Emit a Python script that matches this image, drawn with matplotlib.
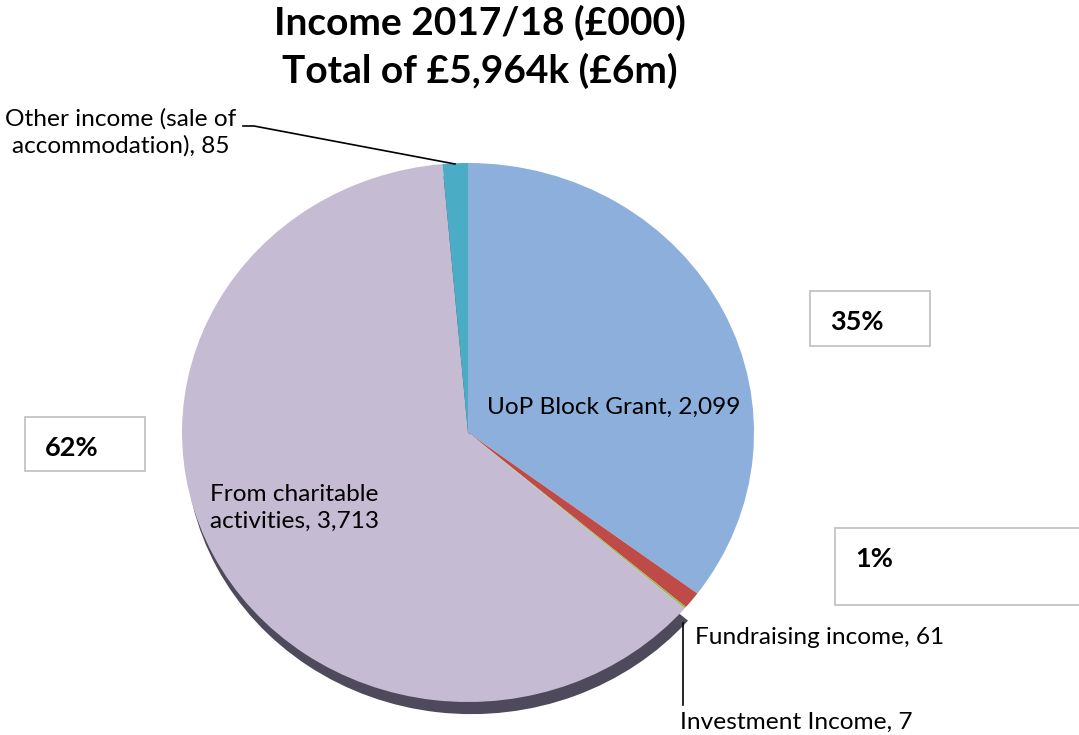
import matplotlib
matplotlib.use('Agg')
import matplotlib.pyplot as plt
from matplotlib.patches import Wedge

plt.rcParams['font.family'] = ['Lato', 'DejaVu Sans']

# Income split, £000
categories = ['UoP Block Grant', 'Fundraising income', 'Investment Income',
              'From charitable\nactivities', 'Other income (sale of\naccommodation)']
values = [2099, 61, 7, 3713, 85]
colors = ['#8DAFDC', '#BE4B48', '#9BBB59', '#C5BCD4', '#4BACC6']
pct_labels = ['35%', '1%', '62%']

W, H = 1079, 735
fig = plt.figure(figsize=(W / 100, H / 100), dpi=100)
fig.patch.set_facecolor('white')


def fx(px):
    return px / W


def fy(py):
    return 1 - py / H


# pie axes sized so the disc comes out slightly flattened
left, right, top, bottom = 182, 754, 163, 702
ax = fig.add_axes([fx(left), fy(bottom), fx(right - left), (bottom - top) / H])
wedges, _ = ax.pie(values, colors=colors, startangle=90, counterclock=False,
                   radius=1, wedgeprops=dict(linewidth=0))
ax.set_aspect('auto')
ax.set_xlim(-1, 1)
ax.set_ylim(-1, 1)

# darker rim under the large slice
big = wedges[3]
rim = Wedge((0.012, -0.045), 1, big.theta1, big.theta2, facecolor='#4E4A5B',
            linewidth=0, zorder=0)
rim.set_clip_on(False)
ax.add_patch(rim)
for w in wedges:
    w.set_zorder(1)
    w.set_clip_on(False)

# title
fig.text(fx(480), fy(23), 'Income 2017/18 (£000)', ha='center', va='center',
         fontsize=28, fontweight='bold')
fig.text(fx(480), fy(71), 'Total of £5,964k (£6m)', ha='center', va='center',
         fontsize=28, fontweight='bold')

lab = dict(fontsize=17.6, color='black', va='center')
fig.text(fx(121), fy(132), f'{categories[4]}, {values[4]}', ha='center',
         multialignment='center', linespacing=1.3, **lab)
fig.text(fx(487), fy(407), f'{categories[0]}, {values[0]:,}', ha='left', **lab)
fig.text(fx(295), fy(508), f'{categories[3]}, {values[3]:,}', ha='center',
         multialignment='left', linespacing=1.3, **lab)
fig.text(fx(695), fy(638), f'{categories[1]}, {values[1]}', ha='left', **lab)
fig.text(fx(680), fy(722), f'{categories[2]}, {values[2]}', ha='left', **lab)

# leader lines
fig.add_artist(plt.Line2D([fx(243), fx(254), fx(455)], [fy(126), fy(126), fy(164)],
                          color='black', linewidth=1.2))
fig.add_artist(plt.Line2D([fx(683), fx(683)], [fy(623), fy(705)],
                          color='black', linewidth=1.2))

# percentage boxes
boxes = [(810, 291, 930, 346), (835, 528, 1085, 605), (25, 417, 145, 471)]
for (x0, y0, x1, y1), txt in zip(boxes, pct_labels):
    fig.add_artist(plt.Rectangle((fx(x0), fy(y1)), fx(x1 - x0), (y1 - y0) / H,
                                 facecolor='white', edgecolor='#BFBFBF',
                                 linewidth=1.2))
    fig.text(fx(x0 + 20), fy(y0 + 31), txt, ha='left', va='center',
             fontsize=19.5, fontweight='bold')

fig.savefig('out.png', dpi=100, facecolor='white')
